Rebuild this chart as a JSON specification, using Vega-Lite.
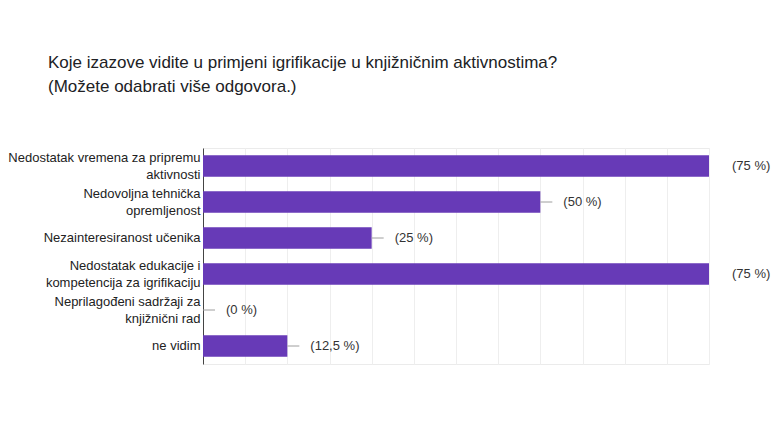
{
  "$schema": "https://vega.github.io/schema/vega-lite/v6.json",
  "width": 506,
  "height": 216,
  "autosize": "none",
  "padding": {"left": 203, "top": 148, "right": 65, "bottom": 77},
  "background": "white",
  "title": {
    "text": ["Koje izazove vidite u primjeni igrifikacije u knjižničnim aktivnostima?", "(Možete odabrati više odgovora.)"],
    "anchor": "start",
    "frame": "group",
    "dx": -155,
    "offset": 52,
    "font": "Liberation Sans",
    "fontSize": 17,
    "fontWeight": "normal",
    "color": "#202124",
    "lineHeight": 24
  },
  "data": {
    "values": [
      {"label": "Nedostatak vremena za pripremu|aktivnosti", "pct": 75, "text": "(75 %)"},
      {"label": "Nedovoljna tehnička|opremljenost", "pct": 50, "text": "(50 %)"},
      {"label": "Nezainteresiranost učenika", "pct": 25, "text": "(25 %)"},
      {"label": "Nedostatak edukacije i|kompetencija za igrifikaciju", "pct": 75, "text": "(75 %)"},
      {"label": "Neprilagođeni sadržaji za|knjižnični rad", "pct": 0, "text": "(0 %)"},
      {"label": "ne vidim", "pct": 12.5, "text": "(12,5 %)"}
    ]
  },
  "config": {
    "view": {"stroke": "#ebebeb", "strokeWidth": 1},
    "font": "Liberation Sans"
  },
  "encoding": {
    "y": {
      "field": "label",
      "type": "nominal",
      "sort": null,
      "title": null,
      "scale": {"paddingInner": 0.4, "paddingOuter": 0.2},
      "axis": {
        "labelExpr": "split(datum.label, '|')",
        "labelFont": "Liberation Sans",
        "labelFontSize": 13,
        "labelColor": "#222222",
        "labelLineHeight": 17,
        "labelOffset": {"condition": {"test": "indexof(datum.value, '|') >= 0", "value": -8.5}, "value": 0},
        "labelPadding": 3,
        "labelLimit": 300,
        "ticks": false,
        "domainColor": "#444444",
        "domainWidth": 1
      }
    }
  },
  "layer": [
    {
      "mark": {"type": "bar", "color": "#673ab7"},
      "encoding": {
        "x": {
          "field": "pct",
          "type": "quantitative",
          "scale": {"domain": [0, 75], "nice": false},
          "axis": {
            "values": [0, 6.25, 12.5, 18.75, 25, 31.25, 37.5, 43.75, 50, 56.25, 62.5, 68.75, 75],
            "labels": false,
            "ticks": false,
            "domain": false,
            "title": null,
            "grid": true,
            "gridColor": "#eeeeee",
            "gridWidth": 1
          }
        }
      }
    },
    {
      "mark": {"type": "rule", "color": "#9e9e9e", "strokeWidth": 1, "x2Offset": 12, "clip": true},
      "encoding": {
        "x": {"field": "pct", "type": "quantitative"},
        "x2": {"field": "pct"}
      }
    },
    {
      "mark": {"type": "text", "align": "left", "dx": 23, "font": "Liberation Sans", "fontSize": 13, "color": "#333333"},
      "encoding": {
        "x": {"field": "pct", "type": "quantitative"},
        "text": {"field": "text"}
      }
    }
  ]
}
